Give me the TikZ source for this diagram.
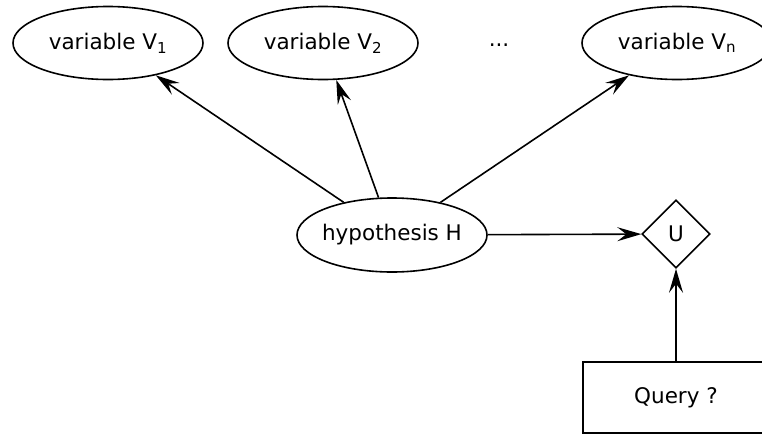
\documentclass[tikz,border=0pt]{standalone}
\usepackage{fontspec}
\setmainfont{DejaVu Sans}
\usetikzlibrary{shapes.geometric,arrows.meta}
\tikzset{
  every node/.style={font=\fontsize{21.5}{26}\selectfont},
  varnode/.style={ellipse,draw,line width=1.6pt,fill=white,minimum width=190pt,minimum height=73pt,inner xsep=-30pt,inner ysep=0pt},
  utilnode/.style={diamond,draw,line width=1.6pt,fill=white,minimum width=68pt,minimum height=68pt,inner sep=0pt},
  querynode/.style={rectangle,draw,line width=1.6pt,fill=white,minimum width=186pt,minimum height=71pt,inner sep=0pt},
  conn/.style={line width=1.6pt,-{Stealth[length=24pt,width=14pt,inset=9pt]}}
}
\begin{document}
\begin{tikzpicture}[x=1pt,y=-1pt]
\useasboundingbox (0,0) rectangle (762,434);
\clip (0,0) rectangle (762,434);
\fill[white] (0,0) rectangle (762,434);
\node[varnode] (v1) at (108,43) {variable V\textsubscript{1}};
\node[varnode] (v2) at (323,43) {variable V\textsubscript{2}};
\node[varnode] (vn) at (677,43) {variable V\textsubscript{n}};
\node (dots) at (499,45) {...};
\node[varnode,minimum height=74pt] (h) at (392,235) {hypothesis H};
\node[utilnode] (u) at (676,234) {U};
\node[querynode] (q) at (676,397.5) {Query ?};
\draw[conn] (h) -- (v1);
\draw[conn] (h) -- (v2);
\draw[conn] (h) -- (vn);
\draw[conn] (h) -- (u);
\draw[conn] (q) -- (u);
\end{tikzpicture}
\end{document}
